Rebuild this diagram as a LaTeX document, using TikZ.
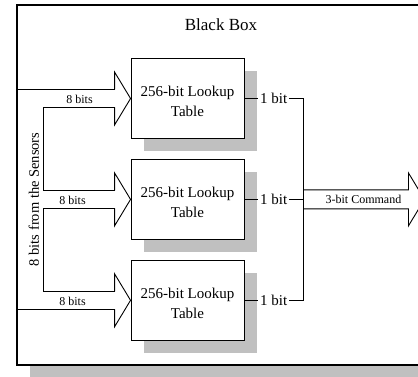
\documentclass[tikz,border=0pt]{standalone}
\usepackage{fontspec}
\setmainfont{Liberation Serif}
\usetikzlibrary{calc,positioning,shadows}

\definecolor{shadowgray}{RGB}{192,192,192}

\tikzset{
  wire/.style={line width=0.9pt},
  frame/.style={draw,line width=1.4pt,fill=white,minimum width=408pt,minimum height=360pt,inner sep=0pt,
    drop shadow={shadow xshift=13pt,shadow yshift=-12pt,fill=shadowgray,opacity=1}},
  lut/.style={draw,line width=0.9pt,fill=white,minimum width=113pt,minimum height=80pt,inner sep=0pt,
    drop shadow={shadow xshift=13pt,shadow yshift=-13pt,fill=shadowgray,opacity=1},
    label={[luttext]center:256-bit Lookup\\Table}},
  luttext/.style={align=center,font=\fontsize{15}{20}\selectfont,inner sep=0pt,yshift=-3pt},
  buslbl/.style={font=\fontsize{12}{14}\selectfont,inner sep=1pt},
  bitlbl/.style={font=\fontsize{15}{18}\selectfont,inner sep=1.5pt},
}

\begin{document}
\begin{tikzpicture}[x=1pt,y=-1pt]
  \useasboundingbox (0,0) rectangle (418,377);
  % the black box
  \node[frame] (bbox) at (221,185) {};
  \node[font=\fontsize{17}{20}\selectfont] (title) at ($(bbox.north)+(0,20)$) {Black Box};
  % lookup tables
  \node[lut] (t1) at (187.5,98.5) {};
  \node[lut,below=20pt of t1] (t2) {};
  \node[lut,below=20pt of t2] (t3) {};

  % input bus
  \coordinate (bus) at ($(bbox.west)+(27,0)$);
  \foreach \t in {t1,t2,t3}{
    \coordinate (\t u) at ($(\t.west)+(-16,-9)$);
    \coordinate (\t d) at ($(\t.west)+(-16,9)$);
    \draw[wire] (\t u) -- ($(\t.west)+(-16,-26.5)$) -- (\t.west)
      -- ($(\t.west)+(-16,26.5)$) -- (\t d);
  }
  \draw[wire] (bbox.west |- t1u) -- (t1u);
  \draw[wire] (t1d) -- (bus |- t1d) -- (bus |- t2u) -- (t2u);
  \draw[wire] (t2d) -- (bus |- t2d) -- (bus |- t3u) -- (t3u);
  \draw[wire] (t3d) -- (bbox.west |- t3d);
  \node[buslbl] (in1) at ($(t1.west)+(-51,1)$) {8 bits};
  \node[buslbl] (in2) at ($(t2.west)+(-58,1)$) {8 bits};
  \node[buslbl] (in3) at ($(t3.west)+(-58,1)$) {8 bits};
  \coordinate (busl) at (bbox.west |- t2.west);
  \coordinate (busr) at (bus |- t2.west);
  \node[font=\fontsize{14.5}{17}\selectfont,inner sep=0pt,rotate=90] (sensors)
    at ($($(busl)!0.5!(busr)$)+(4,0)$) {8 bits from the Sensors};

  % outputs
  \coordinate (join) at ($(t1.east)+(59,0)$);
  \foreach \i in {1,2,3}{
    \node[bitlbl,right=14pt of t\i] (b\i) {1 bit};
    \draw[wire] (t\i) -- (b\i);
  }
  \draw[wire] (b1) -- (b1 -| join) -- (b3 -| join) -- (b3);
  \draw[wire] (b2) -- (b2 -| join);

  % command arrow
  \coordinate (mid) at (join |- b2);
  \coordinate (tip) at ($(mid)+(121,0)$);
  \draw[wire] ($(mid)+(0,-9.5)$) -- ($(tip)+(-16,-9.5)$) -- ($(tip)+(-16,-26.5)$)
    -- (tip) -- ($(tip)+(-16,26.5)$) -- ($(tip)+(-16,9.5)$) -- ($(mid)+(0,9.5)$);
  \node[buslbl] (cmd) at ($(tip)+(-61,0)$) {3-bit Command};
\end{tikzpicture}
\end{document}
